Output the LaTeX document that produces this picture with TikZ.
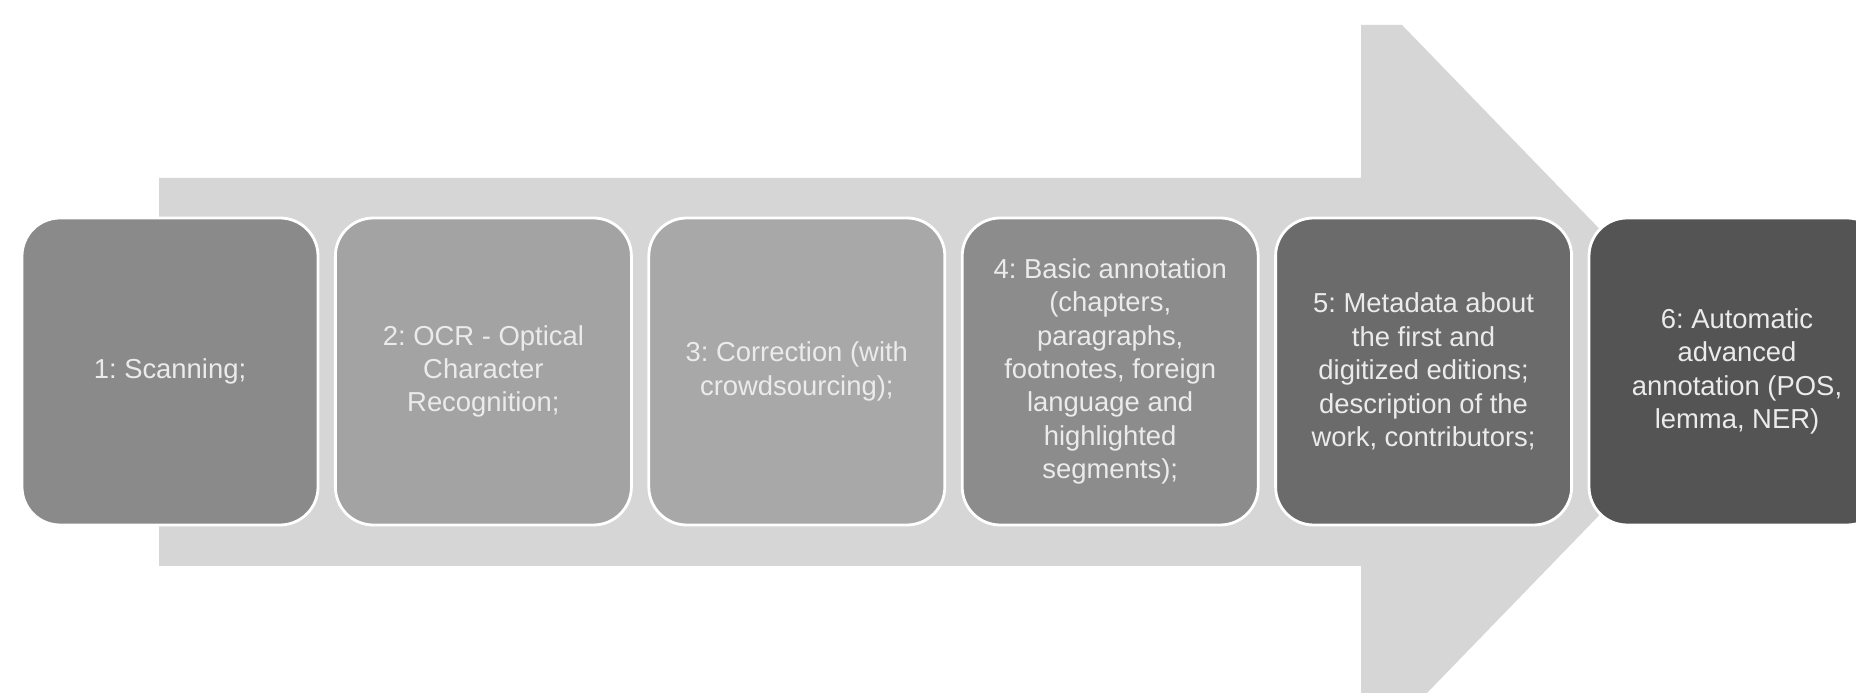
\documentclass[tikz,border=0pt]{standalone}
\usepackage{fontspec}
\setmainfont{Liberation Sans}
\usetikzlibrary{calc}
\frenchspacing
\tikzset{stagebox/.style={rectangle, rounded corners=0.38cm, draw=white, line width=0.8pt, minimum width=2.96cm, minimum height=3.07cm, inner sep=2pt, align=center, text=black!8, font=\fontsize{7.8}{9.5}\selectfont}}

\begin{document}
\begin{tikzpicture}
			%%%%% START %%%%%
			
			\useasboundingbox (0, 0) rectangle (18.56, 6.93);
			\fill[white] (0, 0) rectangle (18.56, 6.93);
			
			\fill[black!16] (1.59, 5.15) -- (13.61, 5.15) -- (13.61, 6.68) -- (14.02, 6.68) -- (17.38, 3.21) -- (14.27, 0) -- (13.61, 0) -- (13.61, 1.27) -- (1.59, 1.27) -- cycle;
			
			\node[stagebox, fill=black!46] (scan) at (1.70, 3.215) {1: Scanning;};
			\node[stagebox, fill=black!36] (ocr) at (4.834, 3.215) {2: OCR - Optical\\Character\\Recognition;};
			\node[stagebox, fill=black!34] (correct) at (7.968, 3.215) {3: Correction (with\\crowdsourcing);};
			\node[stagebox, fill=black!45] (basic) at (11.102, 3.215) {4: Basic annotation\\(chapters,\\paragraphs,\\footnotes, foreign\\language and\\highlighted\\segments);};
			\node[stagebox, fill=black!58] (meta) at (14.236, 3.215) {5: Metadata about\\the first and\\digitized editions;\\description of the\\work, contributors;};
			\node[stagebox, fill=black!67] (auto) at (17.37, 3.215) {6: Automatic\\advanced\\annotation (POS,\\lemma, NER)};
			
			%%%%% END %%%%%
		\end{tikzpicture}
\end{document}
